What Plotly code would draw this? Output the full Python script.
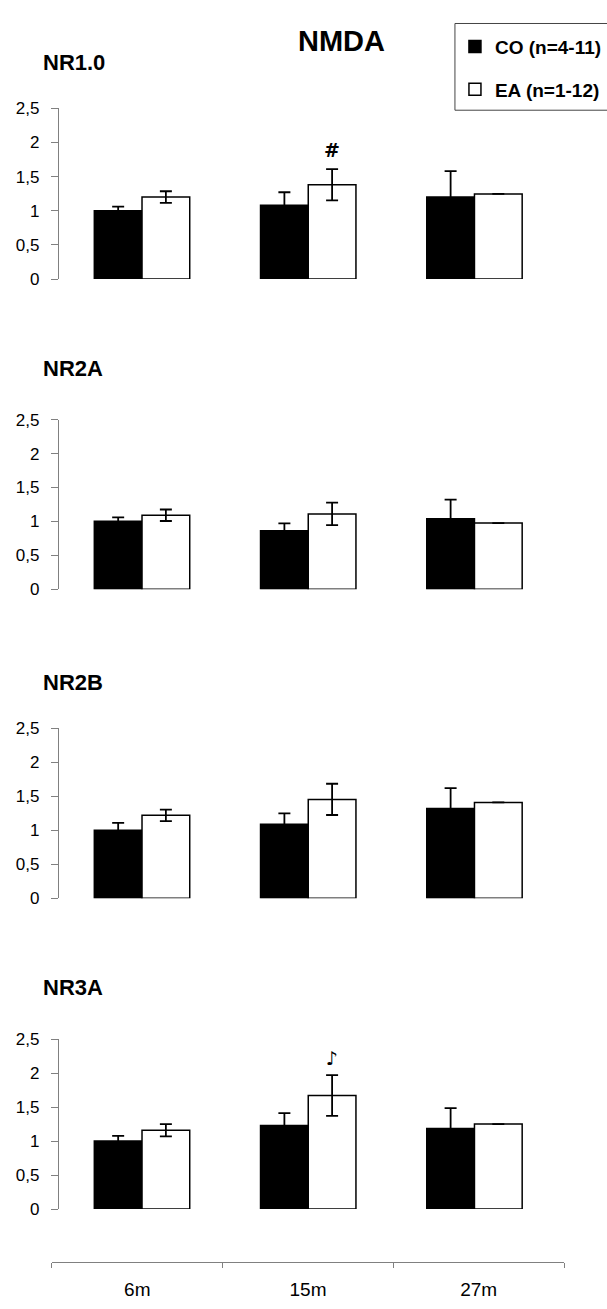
import plotly.graph_objects as go

# ---------------- data ----------------
categories = ["6m", "15m", "27m"]
panel_names = ["NR1.0", "NR2A", "NR2B", "NR3A"]
series_names = ["CO (n=4-11)", "EA (n=1-12)"]

co_nr10 = [1.00, 1.08, 1.20]
co_nr10_err = [0.06, 0.19, 0.38]
ea_nr10 = [1.20, 1.38, 1.245]
ea_nr10_err = [0.085, 0.23, None]

co_nr2a = [1.00, 0.86, 1.04]
co_nr2a_err = [0.06, 0.11, 0.28]
ea_nr2a = [1.09, 1.11, 0.975]
ea_nr2a_err = [0.085, 0.165, None]

co_nr2b = [1.00, 1.09, 1.32]
co_nr2b_err = [0.11, 0.16, 0.30]
ea_nr2b = [1.22, 1.455, 1.41]
ea_nr2b_err = [0.085, 0.23, None]

co_nr3a = [1.00, 1.23, 1.185]
co_nr3a_err = [0.075, 0.18, 0.30]
ea_nr3a = [1.16, 1.67, 1.25]
ea_nr3a_err = [0.09, 0.30, None]

y_tickvals = [0, 0.5, 1, 1.5, 2, 2.5]
y_ticktext = ["0", "0,5", "1", "1,5", "2", "2,5"]

# significance marks: panel -> (category, symbol, y level)
marks_nr10 = ("15m", "#", 1.885)
marks_nr3a = ("15m", "\u266a", 2.215)

# ---------------- figure ----------------
W, H = 607, 1309
FONT = "Liberation Sans, Arial, sans-serif"

co_all = [(co_nr10, co_nr10_err), (co_nr2a, co_nr2a_err), (co_nr2b, co_nr2b_err), (co_nr3a, co_nr3a_err)]
ea_all = [(ea_nr10, ea_nr10_err), (ea_nr2a, ea_nr2a_err), (ea_nr2b, ea_nr2b_err), (ea_nr3a, ea_nr3a_err)]
marks = {0: marks_nr10, 3: marks_nr3a}

# panel pixel extents (top of 2.5 and bottom 0) and panel-label centres
panel_px = [(100.7, 274.0), (416.7, 588.7), (730.0, 902.3), (1045.3, 1217.7)]
label_py = [54.5, 364.7, 683.3, 993.3]
x_px = (59.0, 558.5)

def py(px):
    return 1 - px / H

fig = go.Figure()
layout = dict(
    width=W, height=H,
    margin=dict(l=0, r=0, t=0, b=0),
    paper_bgcolor="white", plot_bgcolor="white",
    barmode="group", bargap=0.426, bargroupgap=0,
    font=dict(family=FONT, size=17, color="black"),
    showlegend=True,
    legend=dict(
        x=455.7 / W, y=py(19), xanchor="left", yanchor="top",
        bgcolor="rgba(0,0,0,0)", borderwidth=0,
        font=dict(family=FONT, size=19, color="black", weight="bold"),
        traceorder="grouped", tracegroupgap=15,
        itemwidth=30,
    ),
    shapes=[dict(
        type="rect", xref="paper", yref="paper",
        x0=455.7 / W, x1=1.05, y0=py(102.7), y1=py(14.7),
        line=dict(color="#444444", width=1), fillcolor="rgba(0,0,0,0)", layer="below",
    )],
)
annotations = []

for i in range(4):
    xa = "x" if i == 0 else f"x{i+1}"
    ya = "y" if i == 0 else f"y{i+1}"
    co, co_err = co_all[i]
    ea, ea_err = ea_all[i]
    fig.add_trace(go.Bar(
        x=categories, y=co, name=series_names[0], xaxis=xa, yaxis=ya,
        marker=dict(color="black", line=dict(color="black", width=1.5)),
        error_y=dict(type="data", array=co_err, visible=True, color="black", thickness=1.8, width=6),
        showlegend=(i == 0), legendgroup="co", hoverinfo="skip",
    ))
    fig.add_trace(go.Bar(
        x=categories, y=ea, name=series_names[1], xaxis=xa, yaxis=ya,
        marker=dict(color="white", line=dict(color="black", width=1.5)),
        error_y=dict(type="data", array=ea_err, visible=True, color="black", thickness=1.8, width=6),
        showlegend=(i == 0), legendgroup="ea", hoverinfo="skip",
    ))
    top, bot = panel_px[i]
    key = "" if i == 0 else str(i + 1)
    layout["xaxis" + key] = dict(
        domain=[x_px[0] / W, x_px[1] / W], anchor=ya, type="category",
        categoryarray=categories, range=[-0.5, 2.5],
        showline=False, showticklabels=False, ticks="", showgrid=False, zeroline=False,
        fixedrange=True,
    )
    layout["yaxis" + key] = dict(
        domain=[py(bot), py(top)], anchor=xa, range=[0, 2.5],
        tickvals=y_tickvals, ticktext=y_ticktext,
        showline=True, linecolor="#808080", linewidth=1,
        ticks="outside", ticklen=7, tickcolor="#808080", tickwidth=1,
        showgrid=False, zeroline=False,
        tickfont=dict(family=FONT, size=17, color="black"),
        ticklabelstandoff=8,
        fixedrange=True,
    )
    annotations.append(dict(
        text=f"<b>{panel_names[i]}</b>", xref="paper", yref="paper",
        x=41 / W, y=py(label_py[i]), xanchor="left", yanchor="middle",
        showarrow=False, font=dict(family=FONT, size=22, color="black"),
    ))
    if i in marks:
        cat, sym, lev = marks[i]
        annotations.append(dict(
            text=f"<b>{sym}</b>", xref=xa, yref=ya, x=cat, y=lev,
            xshift=24, xanchor="center", yanchor="middle", showarrow=False,
            font=dict(family="DejaVu Sans, Liberation Sans, sans-serif", size=19, color="black"),
        ))

# bottom shared category axis
fig.add_trace(go.Scatter(
    x=categories, y=[0, 0, 0], xaxis="x5", yaxis="y5", mode="markers",
    marker=dict(opacity=0), showlegend=False, hoverinfo="skip",
))
layout["xaxis5"] = dict(
    domain=[52 / W, 565 / W], anchor="y5", type="category",
    categoryarray=categories, range=[-0.5, 2.5],
    showline=True, linecolor="#808080", linewidth=1,
    ticks="outside", ticklen=5, tickcolor="#808080", tickson="boundaries",
    showgrid=False, zeroline=False,
    tickfont=dict(family=FONT, size=19, color="black"),
    ticklabelstandoff=11, fixedrange=True,
)
layout["yaxis5"] = dict(domain=[py(1271), py(1270)], anchor="x5", visible=False, fixedrange=True)

annotations.append(dict(
    text="<b>NMDA</b>", xref="paper", yref="paper", x=342 / W, y=py(32),
    xanchor="center", yanchor="middle", showarrow=False,
    font=dict(family=FONT, size=29, color="black"),
))
layout["annotations"] = annotations

fig.update_layout(**layout)
fig.write_html(
    "out.html",
    config={"displayModeBar": False},
    post_script="document.body.style.margin='0';document.body.style.padding='0';"
                "document.documentElement.style.overflow='hidden';",
)
